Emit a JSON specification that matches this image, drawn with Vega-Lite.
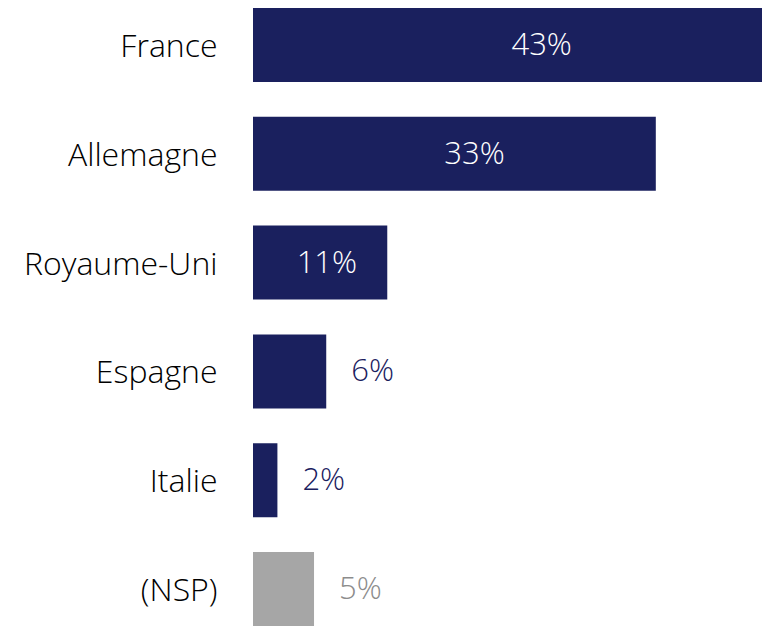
{
  "$schema": "https://vega.github.io/schema/vega-lite/v6.json",
  "width": 509,
  "height": 618,
  "autosize": "none",
  "padding": {"left": 253, "top": 8, "right": 0, "bottom": 0},
  "background": "white",
  "config": {"view": {"stroke": null}, "font": "Open Sans"},
  "data": {
    "values": [
      {"pays": "France", "value": 43, "label": "43%", "grp": "in"},
      {"pays": "Allemagne", "value": 33, "label": "33%", "grp": "in"},
      {"pays": "Royaume-Uni", "value": 11, "label": "11%", "grp": "in"},
      {"pays": "Espagne", "value": 6, "label": "6%", "grp": "out"},
      {"pays": "Italie", "value": 2, "label": "2%", "grp": "out"},
      {"pays": "(NSP)", "value": 5, "label": "5%", "grp": "nsp"}
    ]
  },
  "encoding": {
    "y": {
      "field": "pays", "type": "nominal", "sort": null,
      "scale": {"paddingInner": 0.32, "paddingOuter": 0},
      "axis": {"title": null, "domain": false, "ticks": false, "labelPadding": 36, "labelLimit": 400, "labelOffset": 2,
               "labelFontSize": 32, "labelFont": "Open Sans", "labelFontWeight": 300, "labelColor": "#000000"}
    }
  },
  "layer": [
    {
      "mark": {"type": "bar", "clip": true},
      "encoding": {
        "x": {"field": "value", "type": "quantitative", "scale": {"domain": [0, 41.7], "nice": false}, "axis": null},
        "color": {"field": "grp", "type": "nominal", "scale": {"domain": ["in", "out", "nsp"], "range": ["#1a205e", "#1a205e", "#a6a6a6"]}, "legend": null}
      }
    },
    {
      "transform": [{"filter": "datum.grp == 'in'"}, {"calculate": "datum.value * 0.55", "as": "pos"}],
      "mark": {"type": "text", "align": "center", "baseline": "middle", "dy": 1, "fontSize": 31, "font": "Open Sans", "fontWeight": 300, "color": "white"},
      "encoding": {
        "x": {"field": "pos", "type": "quantitative", "scale": {"domain": [0, 41.7], "nice": false}},
        "text": {"field": "label"}
      }
    },
    {
      "transform": [{"filter": "datum.grp != 'in'"}],
      "mark": {"type": "text", "align": "left", "baseline": "middle", "dx": 25, "dy": 1, "fontSize": 31, "font": "Open Sans", "fontWeight": 300},
      "encoding": {
        "x": {"field": "value", "type": "quantitative", "scale": {"domain": [0, 41.7], "nice": false}},
        "text": {"field": "label"},
        "color": {"field": "grp", "type": "nominal", "scale": {"domain": ["in", "out", "nsp"], "range": ["#1a205e", "#1a205e", "#8c8c8c"]}, "legend": null}
      }
    }
  ],
  "resolve": {"scale": {"color": "independent"}}
}
